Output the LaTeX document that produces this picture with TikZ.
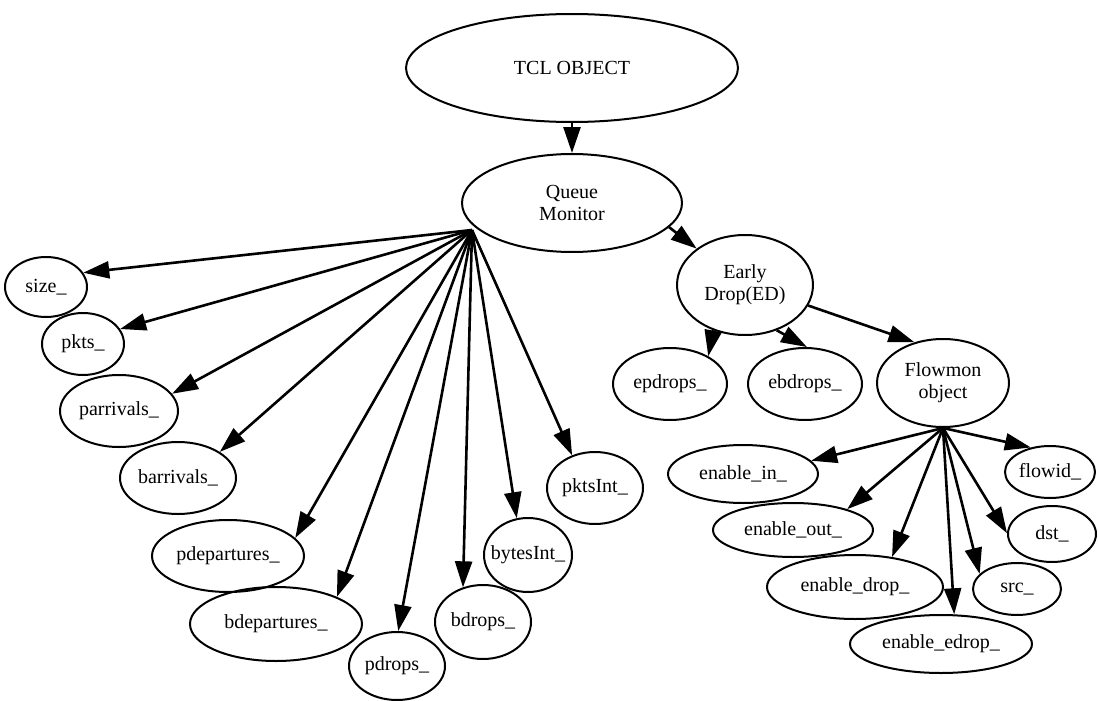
\documentclass[tikz,border=0pt]{standalone}
\usepackage{fontspec}
\setmainfont{Liberation Serif}
\usetikzlibrary{shapes.geometric,arrows.meta}
\begin{document}
\begin{tikzpicture}[x=1pt,y=-1pt,
  obj/.style={ellipse, draw, line width=2pt, inner sep=0pt, align=center,
              font=\fontsize{20}{22}\selectfont},
  link/.style={line width=2.6pt, -{Triangle[length=26pt,width=17pt]}}]
\useasboundingbox (0,0) rectangle (1098,701);

% class hierarchy
\node[obj, minimum width=332pt, minimum height=108pt] (tcl) at (572,68) {TCL OBJECT};
\node[obj, minimum width=220pt, minimum height=98pt] (qm) at (572,203) {Queue\\Monitor};
\node[obj, minimum width=136pt, minimum height=100pt] (ed) at (745,285) {Early\\Drop(ED)};

% queue monitor variables
\node[obj, minimum width=82pt, minimum height=60pt] (size) at (46,287) {size\_};
\node[obj, minimum width=82pt, minimum height=62pt] (pkts) at (83,344) {pkts\_};
\node[obj, minimum width=118pt, minimum height=72pt] (parr) at (119,411) {parrivals\_};
\node[obj, minimum width=116pt, minimum height=72pt] (barr) at (178,478) {barrivals\_};
\node[obj, minimum width=152pt, minimum height=72pt] (pdep) at (228,556) {pdepartures\_};
\node[obj, minimum width=172pt, minimum height=74pt] (bdep) at (276,624) {bdepartures\_};
\node[obj, minimum width=96pt, minimum height=68pt] (pdrops) at (397,666) {pdrops\_};
\node[obj, minimum width=96pt, minimum height=74pt] (bdrops) at (483,622) {bdrops\_};
\node[obj, inner xsep=-7pt, minimum width=88pt, minimum height=74pt] (bint) at (528,555) {bytesInt\_};
\node[obj, minimum width=96pt, minimum height=72pt] (pint) at (595,488) {pktsInt\_};

% early drop variables
\node[obj, minimum width=114pt, minimum height=72pt] (epd) at (670,384) {epdrops\_};
\node[obj, minimum width=114pt, minimum height=72pt] (ebd) at (805,384) {ebdrops\_};
\node[obj, minimum width=132pt, minimum height=88pt] (fm) at (943,383) {Flowmon\\object};

% flow monitor variables
\node[obj, minimum width=150pt, minimum height=58pt] (ein) at (743,474) {enable\_in\_};
\node[obj, minimum width=160pt, minimum height=54pt] (eout) at (793,530) {enable\_out\_};
\node[obj, minimum width=176pt, minimum height=64pt] (edrop) at (855,587) {enable\_drop\_};
\node[obj, minimum width=182pt, minimum height=58pt] (eedrop) at (941,644) {enable\_edrop\_};
\node[obj, minimum width=88pt, minimum height=52pt] (src) at (1017,589) {src\_};
\node[obj, minimum width=88pt, minimum height=56pt] (dst) at (1052,534) {dst\_};
\node[obj, minimum width=90pt, minimum height=52pt] (fid) at (1050,472) {flowid\_};

% fan-out points
\coordinate (qmhub) at (472,230);
\coordinate (fmhub) at (fm.south);

% connectors
\draw[link] (tcl.south) -- (qm.north);
\draw[link] (qm.-14) -- (ed.143);

\draw[link] (qmhub) -- (size.21);
\draw[link] (qmhub) -- (pkts.22);
\draw[link] (qmhub) -- (parr.18);
\draw[link] (qmhub) -- (barr.32);
\draw[link] (qmhub) -- (pdep.15);
\draw[link] (qmhub) -- (bdep.24);
\draw[link] (qmhub) -- (pdrops.88);
\draw[link] (qmhub) -- (bdrops.120);
\draw[link] (qmhub) -- (bint.107);
\draw[link] (qmhub) -- (pint.125);

\draw[link] (ed.235) -- (epd.36);
\draw[link] (ed.-55) -- (ebd.87);
\draw[link] (ed.-18) -- (fm.125);

\draw[link] (fmhub) -- (ein.11);
\draw[link] (fmhub) -- (eout.21);
\draw[link] (fmhub) -- (edrop.39);
\draw[link] (fmhub) -- (eedrop.66);
\draw[link] (fmhub) -- (src.158);
\draw[link] (fmhub) -- (dst.179);
\draw[link] (fmhub) -- (fid.128);
\end{tikzpicture}
\end{document}
